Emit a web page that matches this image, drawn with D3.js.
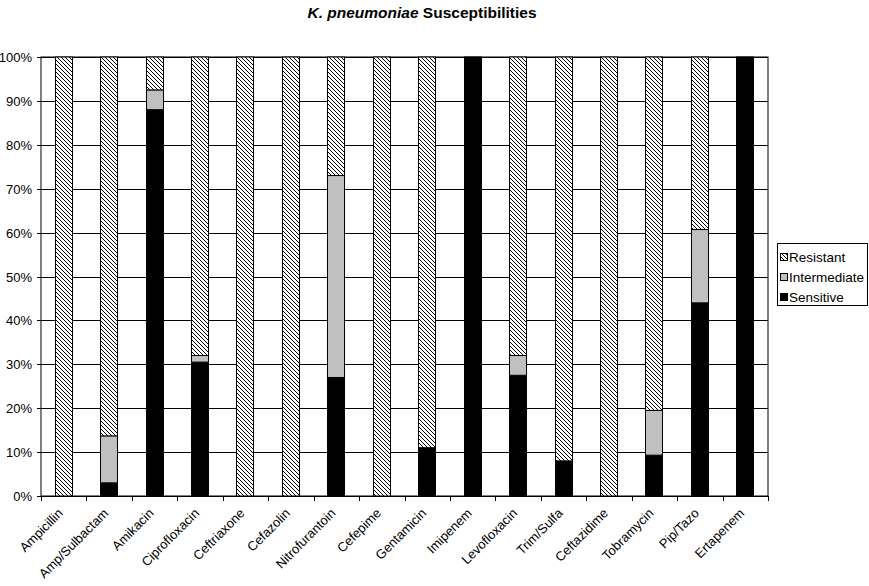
<!DOCTYPE html>
<html><head><meta charset="utf-8">
<script src="https://cdn.jsdelivr.net/npm/d3@7"></script>
<style>body{margin:0;background:#fff;} text{font-family:"Liberation Sans",Arial,sans-serif;}</style>
</head><body><svg id="c" width="869" height="586"></svg>
<script>
const categories = ["Ampicillin","Amp/Sulbactam","Amikacin","Ciprofloxacin","Ceftriaxone","Cefazolin","Nitrofurantoin","Cefepime","Gentamicin","Imipenem","Levofloxacin","Trim/Sulfa","Ceftazidime","Tobramycin","Pip/Tazo","Ertapenem"];
const sensitive    = [0, 3, 88, 30.5, 0, 0, 27, 0, 11, 100, 27.5, 8, 0, 9.3, 44, 100];
const intermediate = [0, 10.7, 4.5, 1.5, 0, 0, 46, 0, 0, 0, 4.5, 0, 0, 10.2, 16.7, 0];
const resistant    = sensitive.map((s,i)=>100 - s - intermediate[i]);
const yTicks = [0,10,20,30,40,50,60,70,80,90,100];
const seriesNames = ["Sensitive","Intermediate","Resistant"];

const svg = d3.select("#c");
const m = {l:41, r:768, t:57, b:496};
const defs = svg.append("defs");
const pat = defs.append("pattern").attr("id","hatch").attr("patternUnits","userSpaceOnUse").attr("width",4).attr("height",4);
pat.append("rect").attr("width",4).attr("height",4).attr("fill","#fff");
pat.append("path").attr("d","M-1,-1L5,5M3,-1L5,1M-1,3L1,5").attr("stroke","#000").attr("stroke-width",1);

const x = d3.scaleBand().domain(categories).range([m.l,m.r]).paddingInner(0).paddingOuter(0);
const y = d3.scaleLinear().domain([0,100]).range([m.b,m.t]);

svg.append("rect").attr("x",m.l).attr("y",m.t).attr("width",m.r-m.l).attr("height",m.b-m.t).attr("fill","#fff").attr("stroke","#000");

// gridlines
svg.append("g").selectAll("line").data(yTicks).join("line")
  .attr("x1",m.l-4).attr("x2",m.r).attr("y1",d=>Math.round(y(d))+0.5).attr("y2",d=>Math.round(y(d))+0.5)
  .attr("stroke","#000").attr("shape-rendering","crispEdges");
svg.append("g").selectAll("text").data(yTicks).join("text")
  .attr("x",m.l-9).attr("y",d=>y(d)+5).attr("text-anchor","end").attr("font-size",13).text(d=>d+"%");

// x ticks
const bounds = categories.map(c=>x(c)).concat([m.r]);
svg.append("g").selectAll("line").data(bounds).join("line")
  .attr("x1",d=>Math.round(d)+0.5).attr("x2",d=>Math.round(d)+0.5).attr("y1",m.b).attr("y2",m.b+5)
  .attr("stroke","#000").attr("shape-rendering","crispEdges");

const data = categories.map((c,i)=>({cat:c, Sensitive:sensitive[i], Intermediate:intermediate[i], Resistant:resistant[i]}));
const stack = d3.stack().keys(seriesNames)(data);
const fills = {Sensitive:"#000", Intermediate:"#c0c0c0", Resistant:"url(#hatch)"};
const bw = 18;
svg.append("g").selectAll("g").data(stack).join("g").attr("fill",d=>fills[d.key])
  .selectAll("rect").data(d=>d).join("rect")
  .attr("x",d=>Math.round(x(d.data.cat)+x.bandwidth()/2-bw/2)+0.5)
  .attr("y",d=>y(d[1]))
  .attr("width",bw-1)
  .attr("height",d=>Math.max(0,y(d[0])-y(d[1])))
  .attr("stroke","#000").attr("stroke-width",1);

// x labels
svg.append("g").selectAll("text").data(categories).join("text")
  .attr("transform",d=>`translate(${x(d)+x.bandwidth()/2},${m.b+18}) rotate(-45)`)
  .attr("text-anchor","end").attr("font-size",13).text(d=>d);

// title
const t = svg.append("text").attr("x",422).attr("y",18).attr("text-anchor","middle").attr("font-size",15.5).attr("font-weight","bold");
t.append("tspan").attr("font-style","italic").text("K. pneumoniae");
t.append("tspan").text(" Susceptibilities");

// legend
const lg = svg.append("g");
lg.append("rect").attr("x",777.5).attr("y",243.5).attr("width",90).attr("height",62).attr("fill","#fff").attr("stroke","#000");
const legItems = ["Resistant","Intermediate","Sensitive"];
legItems.forEach((k,i)=>{
  const yy = 257 + i*20;
  lg.append("rect").attr("x",780.5).attr("y",yy-3.5).attr("width",7).attr("height",7).attr("fill",fills[k]).attr("stroke","#000");
  lg.append("text").attr("x",789).attr("y",yy+5).attr("font-size",13.5).text(k);
});
</script></body></html>
